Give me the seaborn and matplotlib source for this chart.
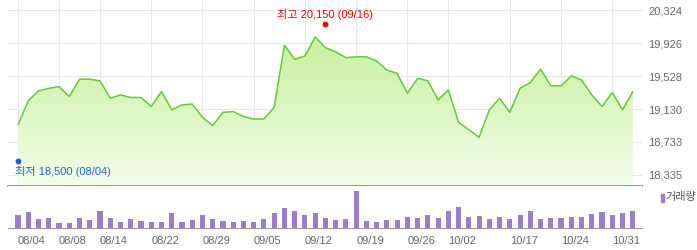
import matplotlib
matplotlib.use("Agg")
import matplotlib.pyplot as plt
import numpy as np
import pandas as pd
import seaborn as sns
from matplotlib.patches import PathPatch, Rectangle
from matplotlib.colors import LinearSegmentedColormap

# ---------------- data ----------------
dates = ["08/04", "08/05", "08/06", "08/07", "08/08", "08/11", "08/12", "08/13", "08/14",
         "08/18", "08/19", "08/20", "08/21", "08/22", "08/25", "08/26", "08/27", "08/28",
         "08/29", "09/01", "09/02", "09/03", "09/04", "09/05", "09/08", "09/09", "09/10",
         "09/11", "09/12", "09/15", "09/16", "09/17", "09/18", "09/19", "09/22", "09/23",
         "09/24", "09/25", "09/26", "09/29", "09/30", "10/01", "10/02", "10/10", "10/13",
         "10/14", "10/15", "10/16", "10/17", "10/20", "10/21", "10/22", "10/23", "10/24",
         "10/27", "10/28", "10/29", "10/30", "10/31", "11/03", "11/04"]
close = [18940, 19230, 19350, 19380, 19400, 19280, 19490, 19490, 19470, 19260,
         19300, 19270, 19270, 19160, 19340, 19120, 19180, 19190, 19030, 18930,
         19090, 19100, 19040, 19010, 19010, 19150, 19900, 19730, 19770, 20000,
         19870, 19820, 19750, 19760, 19760, 19710, 19600, 19560, 19320, 19500,
         19470, 19240, 19360, 18970, 18880, 18790, 19120, 19260, 19090, 19380,
         19450, 19610, 19410, 19410, 19530, 19480, 19300, 19160, 19330, 19120,
         19340]
volume_k = [127, 157, 93, 103, 53, 53, 103, 83, 173, 103,
            63, 93, 73, 63, 63, 147, 63, 83, 127, 93,
            73, 63, 73, 63, 93, 153, 203, 173, 133, 153,
            103, 83, 93, 367, 73, 63, 83, 83, 113, 103,
            133, 103, 173, 213, 113, 123, 93, 113, 93, 133,
            173, 93, 103, 103, 113, 113, 143, 163, 133, 153,
            173]
tick_dates = ["08/04", "08/08", "08/14", "08/22", "08/29", "09/05", "09/12",
              "09/19", "09/26", "10/02", "10/17", "10/24", "10/31"]
price_ticks = [18335, 18733, 19130, 19528, 19926, 20324]
price_tick_labels = ["18,335", "18,733", "19,130", "19,528", "19,926", "20,324"]
high_value, high_date = 20150, "09/16"
low_value, low_date = 18500, "08/04"
high_label = "최고 20,150 (09/16)"
low_label = "최저 18,500 (08/04)"
volume_label = "거래량"

df = pd.DataFrame({"date": dates, "close": close, "volume": volume_k})
df["i"] = np.arange(len(df))

# ---------------- style ----------------
sns.set_style("white")
plt.rcParams["font.family"] = ["Liberation Sans", "Noto Sans CJK KR", "DejaVu Sans"]

W, H = 697, 250
fig = plt.figure(figsize=(W / 100, H / 100), dpi=100)
L, R = 8, 642
ax = fig.add_axes([L / W, (H - 186) / H, (R - L) / W, 186 / H])
axv = fig.add_axes([L / W, (H - 228) / H, (R - L) / W, 42 / H])

xlim = (-0.98, 60.9)
GRID = "#e6e6e6"
TXT = "#666666"

# ---------------- price panel ----------------
ymin, ymax = 18202, 20445
ax.set_xlim(*xlim)
ax.set_ylim(ymin, ymax)

tick_pos = [dates.index(d) for d in tick_dates]
for p in tick_pos:
    ax.axvline(p, color=GRID, lw=0.8, zorder=0)
for t in price_ticks:
    ax.axhline(t, color=GRID, lw=0.8, zorder=0)

# gradient area
poly = ax.fill_between(df["i"], df["close"], ymin, color="none", lw=0)
path = poly.get_paths()[0]
patch = PathPatch(path, transform=ax.transData, facecolor="none", edgecolor="none")
ax.add_patch(patch)
cmap = LinearSegmentedColormap.from_list("g", ["#f3fdea", "#c6f09e"])
grad = np.linspace(0, 1, 256).reshape(-1, 1)
im = ax.imshow(grad, cmap=cmap, origin="lower", aspect="auto",
               extent=[0, len(df) - 1, ymin, max(close)], zorder=1)
im.set_clip_path(patch)
ax.set_xlim(*xlim)
ax.set_ylim(ymin, ymax)

sns.lineplot(data=df, x="i", y="close", ax=ax, color="#66c933", lw=1.1, zorder=3)

# high / low markers
hi_i = dates.index(high_date)
lo_i = dates.index(low_date)
ax.plot([hi_i], [high_value], "o", color="#ff0000", ms=4.2, mec="none", zorder=5)
ax.annotate(high_label, (hi_i, high_value), xytext=(0, 7.5), textcoords="offset points",
            ha="center", va="center", color="#ff0000", fontsize=8, zorder=6)
ax.plot([lo_i], [low_value], "o", color="#1a62e0", ms=4.2, mec="none", zorder=5)
ax.annotate(low_label, (lo_i, low_value), xytext=(-2.3, -7.2), textcoords="offset points",
            ha="left", va="center", color="#2266cc", fontsize=8, zorder=6)

ax.set_xticks([])
ax.yaxis.tick_right()
ax.set_yticks(price_ticks)
ax.set_yticklabels(price_tick_labels)
ax.tick_params(axis="y", length=0, pad=4.5, labelsize=8, labelcolor=TXT)
ax.set_xlabel("")
ax.set_ylabel("")
for s in ["top", "left", "right"]:
    ax.spines[s].set_visible(False)
ax.spines["bottom"].set_color("#808080")
ax.spines["bottom"].set_linewidth(1.2)

# ---------------- volume panel ----------------
sns.barplot(data=df, x="i", y="volume", ax=axv, native_scale=True, width=0.5,
            color="#9a7fc6", saturation=1, edgecolor="none")
axv.set_xlim(*xlim)
axv.set_ylim(0, max(volume_k) * 1.145)
axv.set_yticks([])
axv.set_xticks(tick_pos)
axv.set_xticklabels(tick_dates, ha="left")
for lab in axv.get_xticklabels():
    lab.set_x(lab.get_position()[0])
axv.tick_params(axis="x", length=3.5, width=0.8, color="#999999", pad=2,
                labelsize=8, labelcolor=TXT, direction="out")
axv.set_xlabel("")
axv.set_ylabel("")
for s in ["top", "left", "right"]:
    axv.spines[s].set_visible(False)
axv.spines["bottom"].set_color("#999999")
axv.spines["bottom"].set_linewidth(0.8)

# legend
fig.patches.append(Rectangle((661 / W, (H - 202) / H), 2.6 / W, 8.5 / H,
                             transform=fig.transFigure, color="#9a7fc6"))
fig.text(665.5 / W, (H - 197) / H, volume_label, ha="left", va="center",
         fontsize=8, color="#555555")

fig.savefig("out.png", dpi=100)
